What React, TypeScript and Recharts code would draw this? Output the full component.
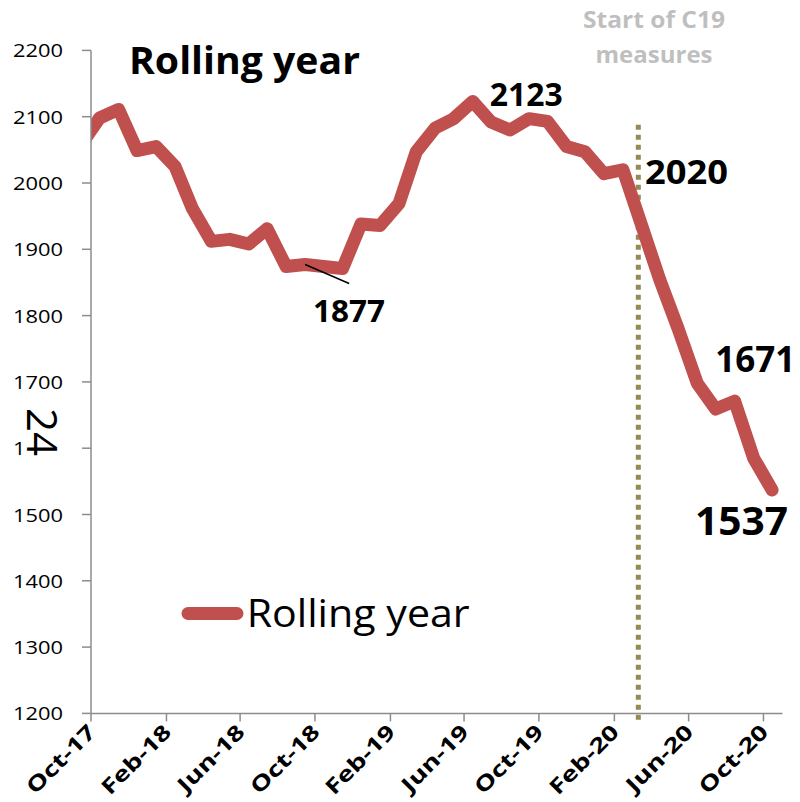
import React from 'react';
import { LineChart, Line, XAxis, YAxis, ReferenceLine, ReferenceDot, Legend } from 'recharts';

// ---------- data ----------
const months = [
  'Sep-17', 'Oct-17', 'Nov-17', 'Dec-17',
  'Jan-18', 'Feb-18', 'Mar-18', 'Apr-18', 'May-18', 'Jun-18', 'Jul-18', 'Aug-18', 'Sep-18', 'Oct-18', 'Nov-18', 'Dec-18',
  'Jan-19', 'Feb-19', 'Mar-19', 'Apr-19', 'May-19', 'Jun-19', 'Jul-19', 'Aug-19', 'Sep-19', 'Oct-19', 'Nov-19', 'Dec-19',
  'Jan-20', 'Feb-20', 'Mar-20', 'Apr-20', 'May-20', 'Jun-20', 'Jul-20', 'Aug-20', 'Sep-20', 'Oct-20',
];
const rollingYear = [
  2058, 2098, 2111, 2049,
  2055, 2025, 1962, 1912, 1915, 1908, 1931, 1874, 1877, 1874, 1871, 1938,
  1936, 1969, 2047, 2083, 2097, 2123, 2092, 2080, 2097, 2093, 2055, 2047,
  2014, 2020, 1940, 1854, 1780, 1698, 1659, 1671, 1585, 1537,
];
const tickLabels = ['Oct-17', 'Feb-18', 'Jun-18', 'Oct-18', 'Feb-19', 'Jun-19', 'Oct-19', 'Feb-20', 'Jun-20', 'Oct-20'];
const yTicks = [1200, 1300, 1400, 1500, 1600, 1700, 1800, 1900, 2000, 2100, 2200];
const labelledMonths = ['Sep-18', 'Jun-19', 'Feb-20', 'Aug-20', 'Oct-20'];
const seriesName = 'Rolling year';
const c19Label = ['Start of C19', 'measures'];
const c19Start = '2020-03-11';
const axisStart = 'Oct-17';
const axisEnd = 'Nov-20';

// ---------- helpers ----------
const MON = ['Jan', 'Feb', 'Mar', 'Apr', 'May', 'Jun', 'Jul', 'Aug', 'Sep', 'Oct', 'Nov', 'Dec'];
const toDate = (label: string, day: number) => {
  const [m, y] = label.split('-');
  return Date.UTC(2000 + Number(y), MON.indexOf(m), day);
};
const MID = 15;

const data = months.map((m, i) => ({ month: m, t: toDate(m, MID), rolling: rollingYear[i] }));
const tickValues = tickLabels.map((l) => toDate(l, 1));
const tickLabelMap: Record<number, string> = {};
tickLabels.forEach((l, i) => (tickLabelMap[tickValues[i]] = l));
const c19Time = Date.parse(c19Start + 'T00:00:00Z');

const FONT = '"Open Sans", "DejaVu Sans", sans-serif';
const RED = '#C0504D';
const GREY = '#8c8c8c';

// label styling per labelled month (position relative to the point)
const labelStyle: Record<string, { dx: number; dy: number; size: number; width: number; leader?: number[] }> = {
  'Sep-18': { dx: 8, dy: 57, size: 30, width: 72, leader: [0, 0, 44, 19] },
  'Jun-19': { dx: 17, dy: 4.5, size: 32, width: 73 },
  'Feb-20': { dx: 22, dy: 14.5, size: 34.5, width: 83 },
  'Aug-20': { dx: -19.5, dy: -29.5, size: 35, width: 80 },
  'Oct-20': { dx: -77, dy: 45, size: 39, width: 93 },
};

const YTick = (props: any) => {
  const { x, y, payload } = props;
  return (
    <text x={x} y={y} textAnchor="end" dominantBaseline="central" fontFamily={FONT} fontSize={19}
      fill="#000" textLength={50} lengthAdjust="spacingAndGlyphs">
      {payload.value}
    </text>
  );
};

const XTick = (props: any) => {
  const { x, y, payload } = props;
  return (
    <g transform={`translate(${x + 6},${y})`}>
      <text transform="rotate(-45) scale(1.3,1)" textAnchor="end" fontFamily={FONT} fontSize={21} fontWeight="bold" fill="#000">
        {tickLabelMap[payload.value]}
      </text>
    </g>
  );
};

const makeLabel = (month: string, value: number) => (props: any) => {
  const vb = props.viewBox || {};
  const cx = vb.x + (vb.width || 0) / 2;
  const cy = vb.y + (vb.height || 0) / 2;
  const s = labelStyle[month];
  return (
    <g>
      {s.leader && (
        <line x1={cx + s.leader[0]} y1={cy + s.leader[1]} x2={cx + s.leader[2]} y2={cy + s.leader[3]}
          stroke="#000" strokeWidth={1.5} />
      )}
      <text x={cx + s.dx} y={cy + s.dy} fontFamily={FONT} fontSize={s.size} fontWeight="bold" fill="#000"
        textLength={s.width} lengthAdjust="spacingAndGlyphs">
        {value}
      </text>
    </g>
  );
};

const LegendContent = () => (
  <svg width={320} height={60}>
    <line x1={18} y1={33.5} x2={67} y2={33.5} stroke={RED} strokeWidth={13} strokeLinecap="round" />
    <text x={76.7} y={46.7} fontFamily={FONT} fontSize={39} fill="#000" textLength={223} lengthAdjust="spacingAndGlyphs">
      {seriesName}
    </text>
  </svg>
);

export default function App() {
  const W = 792;
  const H = 794;
  return (
    <div style={{ position: 'relative', width: W, height: H }}>
      <LineChart width={W} height={H} data={data} margin={{ top: 42.4, right: 17.5, bottom: 0, left: 0 }}>
        <XAxis
          dataKey="t"
          type="number"
          domain={[toDate(axisStart, 1), toDate(axisEnd, 1)]}
          allowDataOverflow
          ticks={tickValues}
          interval={0}
          height={88.6}
          tickSize={8}
          tickMargin={12}
          axisLine={{ stroke: GREY, strokeWidth: 1.5 }}
          tickLine={{ stroke: GREY, strokeWidth: 1.5 }}
          tick={<XTick />}
        />
        <YAxis
          type="number"
          domain={[1200, 2200]}
          ticks={yTicks}
          interval={0}
          width={83}
          tickSize={9}
          tickMargin={19}
          axisLine={{ stroke: GREY, strokeWidth: 1.5 }}
          tickLine={{ stroke: GREY, strokeWidth: 1.5 }}
          tick={<YTick />}
        />
        <ReferenceLine
          segment={[{ x: c19Time, y: 2088 }, { x: c19Time, y: 1187 }]}
          ifOverflow="visible"
          stroke="#948A54"
          strokeWidth={5}
          strokeDasharray="5 5"
        />
        <Line
          type="linear"
          dataKey="rolling"
          name={seriesName}
          stroke={RED}
          strokeWidth={13}
          strokeLinejoin="round"
          strokeLinecap="round"
          dot={false}
          activeDot={false}
          isAnimationActive={false}
        />
        {labelledMonths.map((m) => {
          const d = data.find((p) => p.month === m)!;
          return (
            <ReferenceDot key={m} x={d.t} y={d.rolling} r={0} fill="none" stroke="none"
              label={makeLabel(m, d.rolling)} />
          );
        })}
        <Legend
          layout="horizontal"
          verticalAlign="middle"
          align="center"
          content={<LegendContent />}
          wrapperStyle={{ left: 162, top: 572, right: 'auto', bottom: 'auto', width: 320, height: 60 }}
        />
      </LineChart>
      <svg width={W} height={H} style={{ position: 'absolute', left: 0, top: 0, pointerEvents: 'none', overflow: 'visible' }}>
        <text x={121} y={66} fontFamily={FONT} fontSize={38} fontWeight="bold" fill="#000"
          textLength={231} lengthAdjust="spacingAndGlyphs">
          {seriesName}
        </text>
        <text x={646} y={20.3} textAnchor="middle" fontFamily={FONT} fontSize={24} fontWeight="bold" fill="#bfbfbf"
          textLength={142} lengthAdjust="spacingAndGlyphs">
          {c19Label[0]}
        </text>
        <text x={646} y={55.3} textAnchor="middle" fontFamily={FONT} fontSize={24} fontWeight="bold" fill="#bfbfbf"
          textLength={117} lengthAdjust="spacingAndGlyphs">
          {c19Label[1]}
        </text>
        <rect x={14} y={392} width={48} height={66} fill="#fff" />
        <text transform="translate(35,424) rotate(90)" textAnchor="middle" dominantBaseline="central"
          fontFamily={FONT} fontSize={42} fill="#000">
          24
        </text>
      </svg>
    </div>
  );
}
